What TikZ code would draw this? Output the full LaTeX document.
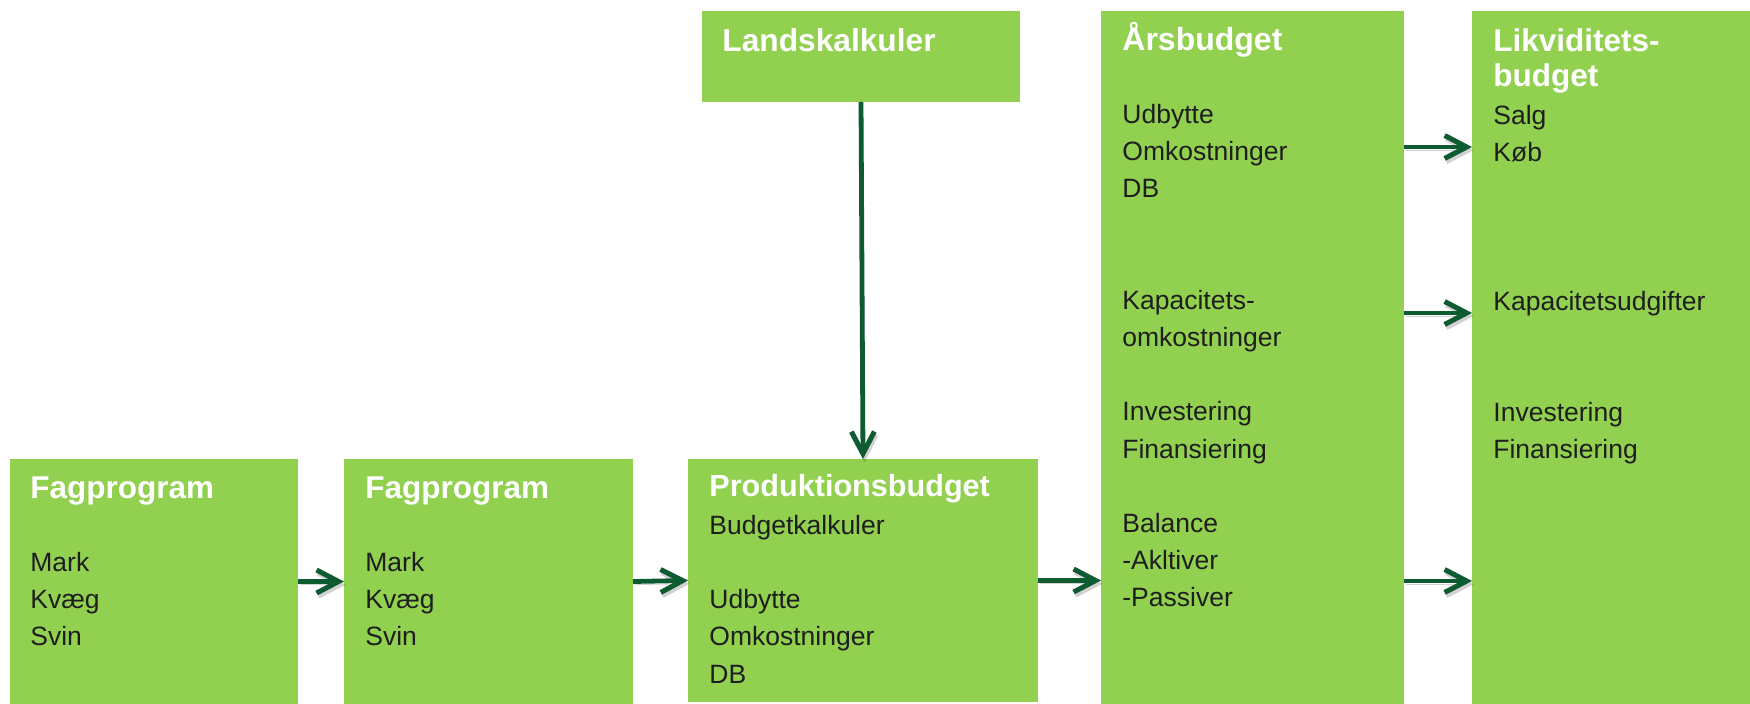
\documentclass[tikz,border=0pt]{standalone}
\usepackage{fontspec}
\setmainfont{Liberation Sans}
\usetikzlibrary{arrows.meta}
\definecolor{boxgreen}{HTML}{92D050}
\definecolor{arrgreen}{HTML}{0E5A31}
\definecolor{bodytext}{HTML}{1E1E1E}
\begin{document}
\begin{tikzpicture}[x=0.5pt,y=-0.5pt,
  box/.style={fill=boxgreen, draw=none, anchor=north west, inner sep=0pt, outer sep=0pt},
  ttl/.style={anchor=base west, inner sep=0pt, text=white, align=left},
  bdy/.style={anchor=base west, inner sep=0pt, text=bodytext, align=left, font=\fontsize{13.25}{18.6}\selectfont},
  arr/.style={draw=arrgreen, line width=2.4pt, -{Straight Barb[length=11pt,width=11.5pt,line width=2.5pt]},
    preaction={draw=black, draw opacity=0.18, transform canvas={shift={(0.8pt,-1.6pt)}}}}
]
\useasboundingbox (0,0) rectangle (1750,704);
\fill[white] (0,0) rectangle (1750,704);
% boxes
\node[box, minimum width=144pt, minimum height=122.5pt] (f1) at (10,459) {};
\node[box, minimum width=144.5pt, minimum height=122.5pt] (f2) at (344,459) {};
\node[box, minimum width=175pt, minimum height=121.5pt] (prod) at (688,459) {};
\node[box, minimum width=159pt, minimum height=45.5pt] (land) at (702,11) {};
\node[box, minimum width=151.5pt, minimum height=346.5pt] (ars) at (1101,11) {};
\node[box, minimum width=139pt, minimum height=346.5pt] (lik) at (1472,11) {};
% titles (anchor = baseline of last line)
\node[ttl, font=\fontsize{15.75}{18}\selectfont\bfseries] (t1) at (30,499) {Fagprogram};
\node[ttl, font=\fontsize{15.75}{18}\selectfont\bfseries] (t2) at (365,499) {Fagprogram};
\node[ttl, font=\fontsize{15.3}{18}\selectfont\bfseries] (t3) at (709,497) {Produktionsbudget};
\node[ttl, font=\fontsize{15.85}{18}\selectfont\bfseries] (t4) at (722,52) {Landskalkuler};
\node[ttl, font=\fontsize{16}{18}\selectfont\bfseries] (t5) at (1122,51) {Årsbudget};
\node[ttl, font=\fontsize{15.75}{17.5}\selectfont\bfseries] (t6) at (1493,87) {Likviditets-\\budget};
% bodies (anchor = baseline of last line)
\node[bdy] (b1) at (30,646) {Mark\\Kvæg\\Svin};
\node[bdy] (b2) at (365,646) {Mark\\Kvæg\\Svin};
\node[bdy] (b3) at (709,683) {Budgetkalkuler\\\mbox{}\\Udbytte\\Omkostninger\\DB};
\node[bdy] (b5) at (1122,607) {Udbytte\\Omkostninger\\DB\\\mbox{}\\\mbox{}\\Kapacitets-\\omkostninger\\\mbox{}\\Investering\\Finansiering\\\mbox{}\\Balance\\-Akltiver\\-Passiver};
\node[bdy] (b6) at (1493,459) {Salg\\Køb\\\mbox{}\\\mbox{}\\\mbox{}\\Kapacitetsudgifter\\\mbox{}\\\mbox{}\\Investering\\Finansiering};
% connectors
\coordinate (ya) at (0,147);
\coordinate (yb) at (0,313);
\coordinate (yc) at (0,581);
\draw[arr] (f1.east) -- (f2.west);
\draw[arr] (f2.east) -- (prod.west);
\draw[arr] (prod.east) -- (ars.west |- prod.east);
\draw[arr] (land.south) -- (prod.north);
\draw[arr] (ars.east |- ya) -- (lik.west |- ya);
\draw[arr] (ars.east |- yb) -- (lik.west |- yb);
\draw[arr] (ars.east |- yc) -- (lik.west |- yc);
\end{tikzpicture}
\end{document}
